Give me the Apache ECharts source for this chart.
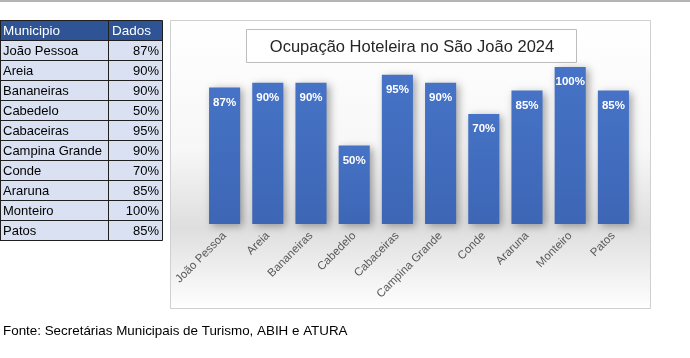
<!DOCTYPE html>
<html>
<head>
<meta charset="utf-8">
<script src="https://cdn.jsdelivr.net/npm/echarts@6/dist/echarts.min.js"></script>
<style>
html,body{margin:0;padding:0;background:#fff;}
#c{width:690px;height:358px;}
</style>
</head>
<body>
<div id="c"></div>
<script>
const categories = ['João Pessoa','Areia','Bananeiras','Cabedelo','Cabaceiras','Campina Grande','Conde','Araruna','Monteiro','Patos'];
const values = [87,90,90,50,95,90,70,85,100,85];
const tableHeader = ['Municipio','Dados'];
const chartTitle = 'Ocupação Hoteleira no São João 2024';
const sourceNote = 'Fonte: Secretárias Municipais de Turismo, ABIH e ATURA';

const FONT = '"Liberation Sans", Arial, sans-serif';
const chart = echarts.init(document.getElementById('c'), null, {renderer:'canvas'});

const graphics = [];
// top gray line
graphics.push({type:'rect', shape:{x:0,y:0,width:690,height:2}, style:{fill:'#b4b4b4'}, silent:true});
// chart area background + border
graphics.push({type:'rect', z:-10, shape:{x:170.5,y:20.5,width:480,height:288},
  style:{fill:new echarts.graphic.LinearGradient(0,0,0,1,[
    {offset:0,color:'#ffffff'},{offset:0.45,color:'#f7f7f7'},{offset:0.72,color:'#dedede'},{offset:1,color:'#ffffff'}]),
    stroke:'#d0d0d0', lineWidth:1}, silent:true});
// title box
graphics.push({type:'rect', shape:{x:246.5,y:29.5,width:330,height:33}, style:{fill:'#ffffff',stroke:'#bdbdbd',lineWidth:1}, silent:true});
graphics.push({type:'text', x:412, y:47, style:{text:chartTitle, font:'16.5px '+FONT, fill:'#262626', align:'center', verticalAlign:'middle'}, silent:true});

// table
const tx0 = 0, tx1 = 108.5, tx2 = 162.5, ty0 = 20.5, rh = 20;
graphics.push({type:'rect', shape:{x:tx0,y:ty0,width:tx2-tx0,height:rh}, style:{fill:'#2f5496'}, silent:true});
graphics.push({type:'rect', shape:{x:tx0,y:ty0+rh,width:tx2-tx0,height:rh*categories.length}, style:{fill:'#d9e1f2'}, silent:true});
graphics.push({type:'text', x:3, y:ty0+rh/2+1, style:{text:tableHeader[0], font:'13.5px '+FONT, fill:'#ffffff', verticalAlign:'middle'}, silent:true});
graphics.push({type:'text', x:112, y:ty0+rh/2+1, style:{text:tableHeader[1], font:'13.5px '+FONT, fill:'#ffffff', verticalAlign:'middle'}, silent:true});
categories.forEach((c,i)=>{
  const yc = ty0 + rh*(i+1) + rh/2 + 1;
  graphics.push({type:'text', x:3, y:yc, style:{text:c, font:'13px '+FONT, fill:'#000000', verticalAlign:'middle'}, silent:true});
  graphics.push({type:'text', x:159, y:yc, style:{text:values[i]+'%', font:'13px '+FONT, fill:'#000000', align:'right', verticalAlign:'middle'}, silent:true});
});
// table lines
for (let i=0;i<=categories.length+1;i++){
  const y = ty0 + rh*i;
  graphics.push({type:'line', shape:{x1:tx0,y1:y,x2:tx2,y2:y}, style:{stroke:'#1f1f1f',lineWidth:1}, silent:true});
}
[tx0+0.5, tx1, tx2].forEach(x=>{
  graphics.push({type:'line', shape:{x1:x,y1:ty0,x2:x,y2:ty0+rh*(categories.length+1)}, style:{stroke:'#1f1f1f',lineWidth:1}, silent:true});
});
// source note
graphics.push({type:'text', x:3, y:331, style:{text:sourceNote, font:'13.4px '+FONT, fill:'#000000', verticalAlign:'middle'}, silent:true});

chart.setOption({
  animation:false,
  backgroundColor:'#ffffff',
  graphic: graphics,
  grid:{left:203, right:55, top:67, bottom:134},
  xAxis:{type:'category', data:categories,
    axisLine:{show:false}, axisTick:{show:false},
    axisLabel:{rotate:45, color:'#595959', fontSize:11.5, fontFamily:FONT, margin:10, interval:0}},
  yAxis:{type:'value', min:0, max:100, show:false, splitLine:{show:false}},
  series:[{type:'bar', data:values, barCategoryGap:'28%',
    itemStyle:{color:new echarts.graphic.LinearGradient(0,0,0,1,[{offset:0,color:'#4673c6'},{offset:1,color:'#3d66b5'}]),
      shadowBlur:8, shadowColor:'rgba(0,0,0,0.35)', shadowOffsetX:3, shadowOffsetY:2},
    label:{show:true, position:'insideTop', distance:9, color:'#ffffff', fontWeight:'bold', fontSize:11.5, fontFamily:FONT, formatter:'{c}%'}
  }]
});
</script>
</body>
</html>
